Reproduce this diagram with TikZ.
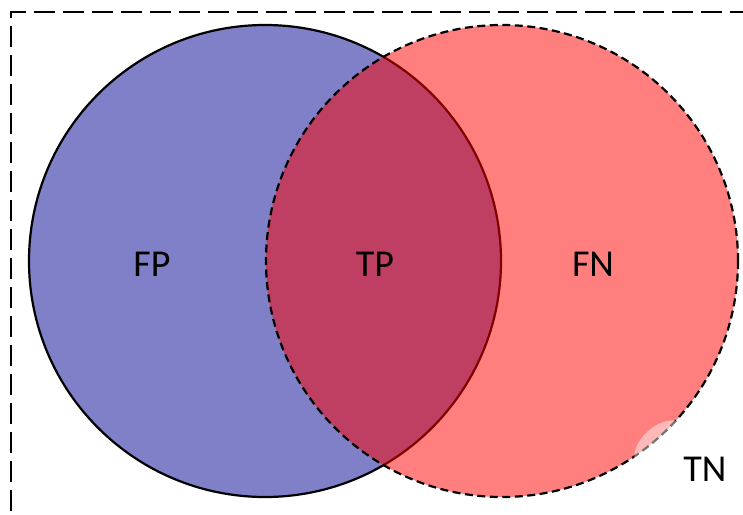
\documentclass[tikz,border=0pt]{standalone}
\usepackage{fontspec}
\setmainfont{Carlito}
\definecolor{setblue}{RGB}{128,128,200}
\begin{document}
\begin{tikzpicture}[x=1pt,y=-1pt,
  setcircle/.style={circle,minimum size=472pt,inner sep=0pt},
  lbl/.style={font=\fontsize{38}{40}\selectfont,inner sep=0pt}]
\useasboundingbox (0,0) rectangle (743,514);
% universe (TN) rectangle
\draw[line width=2.8pt,dash pattern=on 21pt off 8pt] (11,540) -- (11,12) -- (760,12);
% predicted set (blue)
\node[setcircle,fill=setblue,draw=black,line width=2.2pt] (pred) at (265,261) {};
% actual set (red, translucent)
\node[setcircle,fill=red,fill opacity=0.5] (act) at (502,261) {};
\node[setcircle,draw=black,line width=2.2pt,dash pattern=on 8pt off 4.5pt] (actline) at (502,261) {};
% light glare
\fill[white,opacity=0.45,rotate around={40:(661,445)}] (661,445) ellipse (31 and 19);
% labels
\node[lbl] (fp) at (152,264) {FP};
\node[lbl] (tp) at (375,264) {TP};
\node[lbl] (fn) at (593,264) {FN};
\node[lbl] (tn) at (705,469) {TN};
\end{tikzpicture}
\end{document}
